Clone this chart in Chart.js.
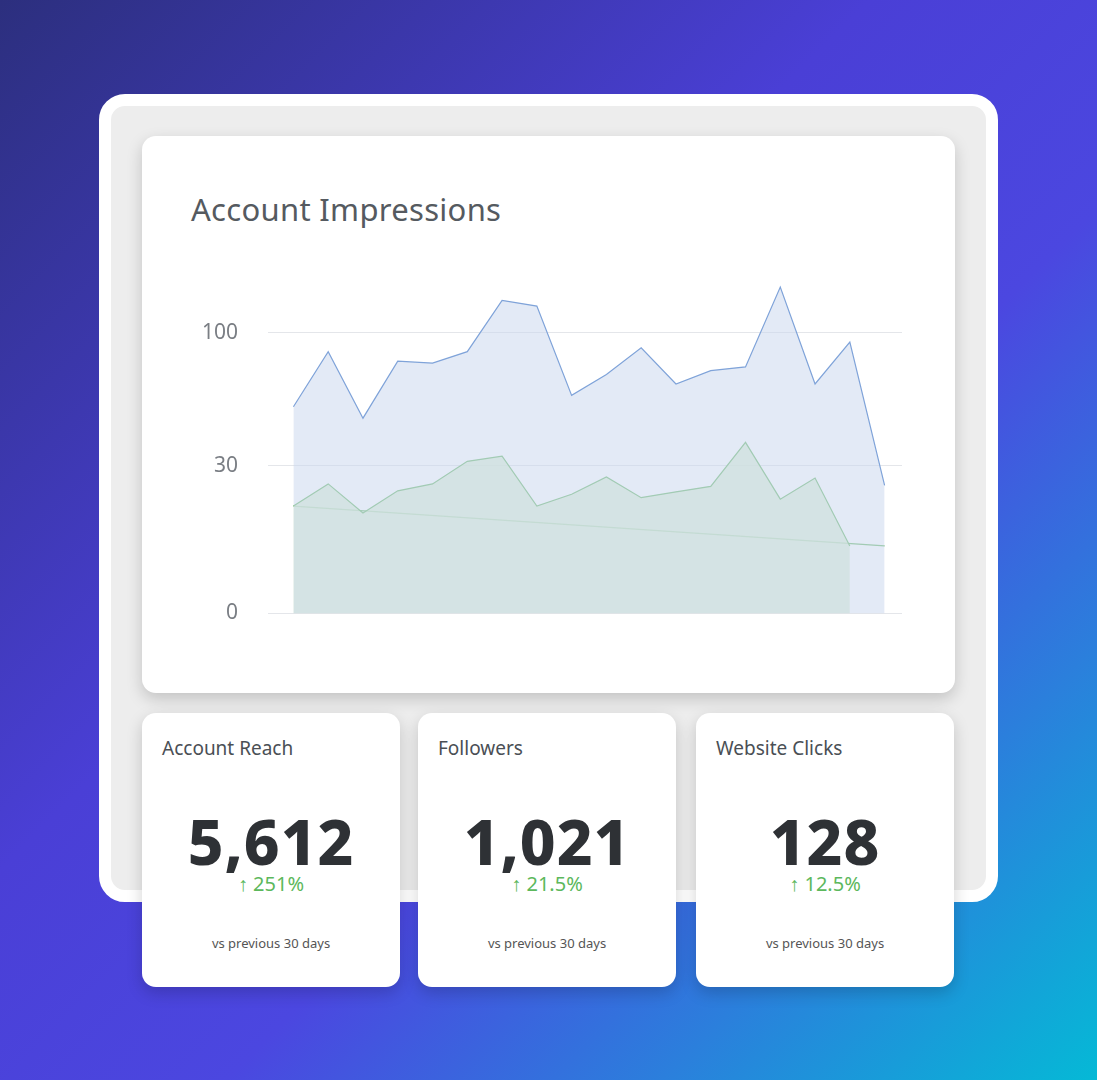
<!DOCTYPE html><html><head><meta charset="utf-8">
<script src="https://cdn.jsdelivr.net/npm/chart.js@4"></script>
<style>
body{margin:0;width:1097px;height:1080px;overflow:hidden;font-family:"Noto Sans",sans-serif;
background:linear-gradient(135deg,#2c2f7e 0%,#4a3fd6 40%,#4b47e0 60%,#2b7fdc 80%,#05b9d6 100%);position:relative}
.frame{position:absolute;left:99px;top:94px;width:875px;height:784px;background:#ededed;border:12px solid #fff;border-radius:26px}
.card{position:absolute;background:#fff;border-radius:14px;box-shadow:0 6px 16px rgba(0,0,0,.18)}
.title{position:absolute;left:49px;top:52px;font-size:31px;color:#555a60;letter-spacing:.3px}
.kt{position:absolute;left:20px;top:22px;font-size:19px;color:#4a4f55}
.kv{position:absolute;left:0;right:0;top:86px;text-align:center;font-size:62px;font-weight:800;color:#2e3135;letter-spacing:1px}
.kp{position:absolute;left:0;right:0;top:157px;text-align:center;font-size:20px;color:#5cb85c}
.ks{position:absolute;left:0;right:0;top:221px;text-align:center;font-size:13px;color:#555}
</style></head><body>
<div class="frame"></div>
<div class="card" style="left:142px;top:136px;width:813px;height:557px">
<div class="title">Account Impressions</div>
<div style="position:absolute;left:30px;top:100px;width:740px;height:420px"><canvas id="c"></canvas></div>
</div>
<div class="card" style="left:142px;top:713px;width:258px;height:274px"><div class="kt">Account Reach</div><div class="kv">5,612</div><div class="kp">↑ 251%</div><div class="ks">vs previous 30 days</div></div>
<div class="card" style="left:418px;top:713px;width:258px;height:274px"><div class="kt">Followers</div><div class="kv">1,021</div><div class="kp">↑ 21.5%</div><div class="ks">vs previous 30 days</div></div>
<div class="card" style="left:696px;top:713px;width:258px;height:274px"><div class="kt">Website Clicks</div><div class="kv">128</div><div class="kp">↑ 12.5%</div><div class="ks">vs previous 30 days</div></div>
<script>
const labels=Array.from({length:18},(_,i)=>'D'+(i+1));
const impressions=[61,90,55,85,84,90,117,114,67,78,92,73,80,82,124,73,95,26];
const reach=[21.8,26.3,20.4,24.9,26.3,32.3,35,21.8,24.2,27.7,23.5,24.7,25.8,42.3,23.2,27.5,13.7];
reach.push(13.7); reach.splice(17,1);
const trend=[21.8,null,null,null,null,null,null,null,null,null,null,null,null,null,null,null,null,13.7];
const tickValues=[0,30,100];
// piecewise axis: 0-30 and 30-100 segments
const t=v=>v==null?null:(v<=30?v:30+(v-30)*0.386);
const inv=u=>u<=30?u:Math.round(30+(u-30)/0.386);
new Chart(document.getElementById('c'),{type:'line',
data:{labels,datasets:[
{data:impressions.map(t),borderColor:'#7fa3d9',backgroundColor:'rgba(200,214,238,0.5)',fill:'origin',borderWidth:1.2,pointRadius:0,tension:0},
{data:reach.map(t),borderColor:'#7cc07a',backgroundColor:'rgba(215,236,205,0.75)',fill:'origin',borderWidth:1.2,pointRadius:0,tension:0},
{data:trend.map(t),borderColor:'#7cc07a',borderWidth:1.2,pointRadius:0,spanGaps:true,fill:false}
]},
options:{responsive:true,maintainAspectRatio:false,animation:false,
layout:{padding:{right:10}},
plugins:{legend:{display:false},tooltip:{enabled:false}},
scales:{x:{offset:true,grid:{display:false},border:{display:false},ticks:{display:false}},
y:{min:0,max:68,border:{display:false},grid:{color:'#e4e6ea'},
afterBuildTicks:s=>{s.ticks=tickValues.map(v=>({value:t(v)}));},
ticks:{padding:30,color:'#7a7e84',font:{size:21,family:'Noto Sans'},callback:v=>inv(v)}}}}});
</script></body></html>
